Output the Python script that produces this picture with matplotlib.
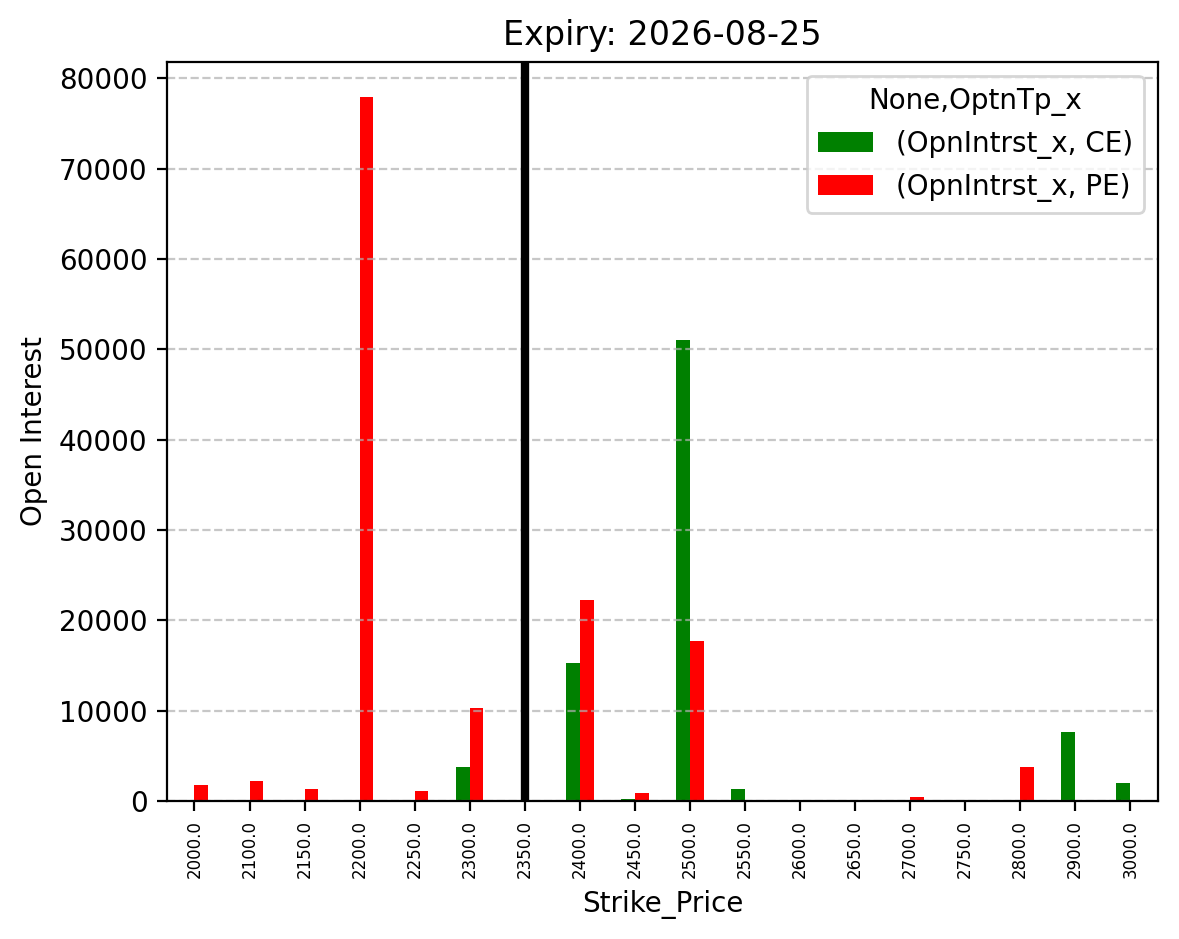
import numpy as np
import pandas as pd
import matplotlib
matplotlib.use('Agg')
import matplotlib.pyplot as plt

strikes = [2000.0, 2100.0, 2150.0, 2200.0, 2250.0, 2300.0, 2350.0, 2400.0, 2450.0, 2500.0,
           2550.0, 2600.0, 2650.0, 2700.0, 2750.0, 2800.0, 2900.0, 3000.0]
ce_oi = [0, 0, 0, 0, 0, 3750, 0, 15250, 200, 51000,
         1300, 0, 0, 0, 0, 0, 7600, 2000]
pe_oi = [1800, 2200, 1300, 77900, 1100, 10300, 0, 22200, 900, 17700,
         0, 0, 0, 400, 0, 3750, 0, 0]
spot = 2350.0
expiry = '2026-08-25'

cols = pd.MultiIndex.from_tuples([('OpnIntrst_x', 'CE'), ('OpnIntrst_x', 'PE')],
                                 names=[None, 'OptnTp_x'])
df = pd.DataFrame(np.column_stack([ce_oi, pe_oi]), index=pd.Index(strikes, name='Strike_Price'),
                  columns=cols)

fig = plt.figure(figsize=(5.895, 4.695), dpi=200)
ax = fig.add_axes([0.1416, 0.147, 0.8404, 0.787])
df.plot(kind='bar', color=['green', 'red'], ax=ax)
ax.axvline(strikes.index(spot), color='black', linewidth=3)
ax.grid(axis='y', linestyle='--', alpha=0.7)
ax.set_title('Expiry: ' + expiry)
ax.set_ylabel('Open Interest')
ax.set_xlabel('Strike_Price')
plt.xticks(rotation=90, fontsize=6)
plt.savefig('out.png', dpi=200)
